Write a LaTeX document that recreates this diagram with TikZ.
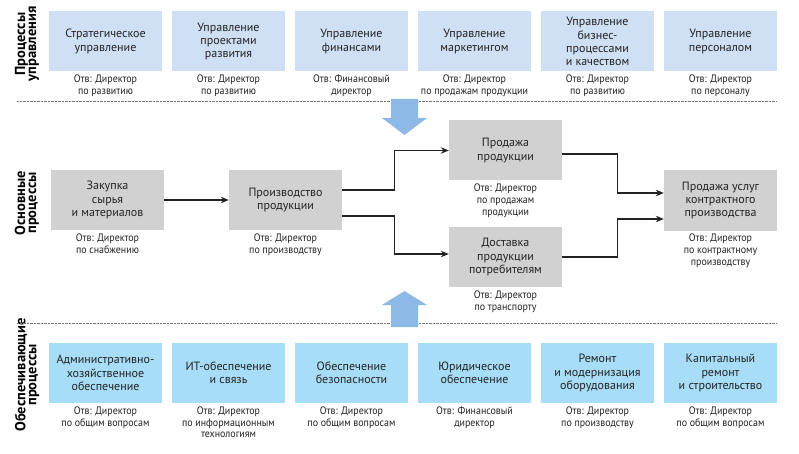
\documentclass[tikz,border=0pt]{standalone}
\usepackage{fontspec}
\setmainfont{PT Sans}
\newfontfamily\capfont[FakeStretch=0.92]{PT Sans}
\usetikzlibrary{arrows.meta}
\definecolor{topfill}{RGB}{207,224,244}
\definecolor{botfill}{RGB}{168,221,247}
\definecolor{midfill}{RGB}{209,209,209}
\definecolor{arrfill}{RGB}{140,185,229}
\definecolor{txt}{RGB}{35,35,35}
\definecolor{dotc}{RGB}{120,120,120}
\tikzset{
  box/.style={minimum width=113pt, minimum height=60pt, inner sep=0pt, align=center,
    font=\fontsize{12}{13.2}\selectfont, text=txt},
  topbox/.style={box, fill=topfill},
  botbox/.style={box, fill=botfill},
  midbox/.style={box, fill=midfill},
  capt/.style={anchor=north, align=center, inner sep=0pt,
    font=\capfont\fontsize{10.8}{11.8}\selectfont, text=txt},
  sect/.style={rotate=90, align=center, inner sep=0pt,
    font=\bfseries\fontsize{14.5}{11}\selectfont, text=black},
  sep/.style={draw=dotc, line width=0.8pt, dash pattern=on 0.6pt off 0.8pt},
  conn/.style={draw=txt, line width=1.2pt, -{Stealth[length=8pt,width=6.5pt]}},
  bigarrow/.style={fill=arrfill, draw=none}
}
\begin{document}
\begin{tikzpicture}[x=1pt,y=-1pt]
\path[use as bounding box, fill=white] (0,0) rectangle (799,454);

% section labels
\node[sect] (s1) at (27,44) {Процессы\\управления};
\node[sect] (s2) at (27,203) {Основные\\процессы};
\node[sect] (s3) at (27,375) {Обеспечивающие\\процессы};

% separators
\coordinate (d1a) at (17,101); \coordinate (d1b) at (777,101);
\coordinate (d2a) at (17,323); \coordinate (d2b) at (777,323);
\draw[sep] (d1a) -- (d1b);
\draw[sep] (d2a) -- (d2b);

% top row
\node[topbox] (t1) at (105.5,41.5) {Стратегическое\\управление};
\node[topbox] (t2) at (228.5,41.5) {Управление\\проектами\\развития};
\node[topbox] (t3) at (351.5,41.5) {Управление\\финансами};
\node[topbox] (t4) at (474.5,41.5) {Управление\\маркетингом};
\node[topbox] (t5) at (597.5,41.5) {Управление\\бизнес-\\процессами\\и качеством};
\node[topbox] (t6) at (720.5,41.5) {Управление\\персоналом};
\node[capt] (tc1) at (105.5,74.5) {Отв: Директор\\по развитию};
\node[capt] (tc2) at (228.5,74.5) {Отв: Директор\\по развитию};
\node[capt] (tc3) at (351.5,74.5) {Отв: Финансовый\\директор};
\node[capt] (tc4) at (474.5,74.5) {Отв: Директор\\по продажам продукции};
\node[capt] (tc5) at (597.5,74.5) {Отв: Директор\\по развитию};
\node[capt] (tc6) at (720.5,74.5) {Отв: Директор\\по персоналу};

% big arrows
\fill[bigarrow] (391,99) -- (418,99) -- (418,118) -- (427,118) -- (404.5,135)
  -- (382,118) -- (391,118) -- cycle;
\fill[bigarrow] (391,327) -- (418,327) -- (418,305) -- (427,305) -- (404.5,291)
  -- (382,305) -- (391,305) -- cycle;

% middle row
\node[midbox] (m1) at (107.5,200) {Закупка\\сырья\\и материалов};
\node[midbox] (m2) at (285.5,200) {Производство\\продукции};
\node[midbox] (m3) at (505.5,150.5) {Продажа\\продукции};
\node[midbox] (m4) at (505.5,257) {Доставка\\продукции\\потребителям};
\node[midbox] (m5) at (720.5,200.5) {Продажа услуг\\контрактного\\производства};
\node[capt] (mc1) at (107.5,233.5) {Отв: Директор\\по снабжению};
\node[capt] (mc2) at (285.5,233.5) {Отв: Директор\\по производству};
\node[capt] (mc3) at (505.5,184) {Отв: Директор\\по продажам\\продукции};
\node[capt] (mc4) at (505.5,290.5) {Отв: Директор\\по транспорту};
\node[capt] (mc5) at (720.5,234) {Отв: Директор\\по контрактному\\производству};

\draw[conn] (m1) -- (m2);
\draw[conn] ([yshift=10pt]m2.east) -- ++(52pt,0pt) |- (m3.west);
\draw[conn] ([yshift=-16pt]m2.east) -- ++(52pt,0pt) |- ([yshift=3pt]m4.west);
\draw[conn] ([yshift=-3.5pt]m3.east) -- ++(55pt,0pt) |- ([yshift=7.5pt]m5.west);
\draw[conn] (m4.east) -- ++(55pt,0pt) |- ([yshift=-18.5pt]m5.west);

% bottom row
\node[botbox] (b1) at (105.5,373) {Административно-\\хозяйственное\\обеспечение};
\node[botbox] (b2) at (228.5,373) {ИТ-обеспечение\\и связь};
\node[botbox] (b3) at (351.5,373) {Обеспечение\\безопасности};
\node[botbox] (b4) at (474.5,373) {Юридическое\\обеспечение};
\node[botbox] (b5) at (597.5,373) {Ремонт\\и модернизация\\оборудования};
\node[botbox] (b6) at (720.5,373) {Капитальный\\ремонт\\и строительство};
\node[capt] (bc1) at (105.5,406.5) {Отв: Директор\\по общим вопросам};
\node[capt] (bc2) at (228.5,406.5) {Отв: Директор\\по информационным\\технологиям};
\node[capt] (bc3) at (351.5,406.5) {Отв: Директор\\по общим вопросам};
\node[capt] (bc4) at (474.5,406.5) {Отв: Финансовый\\директор};
\node[capt] (bc5) at (597.5,406.5) {Отв: Директор\\по производству};
\node[capt] (bc6) at (720.5,406.5) {Отв: Директор\\по общим вопросам};
\end{tikzpicture}
\end{document}
